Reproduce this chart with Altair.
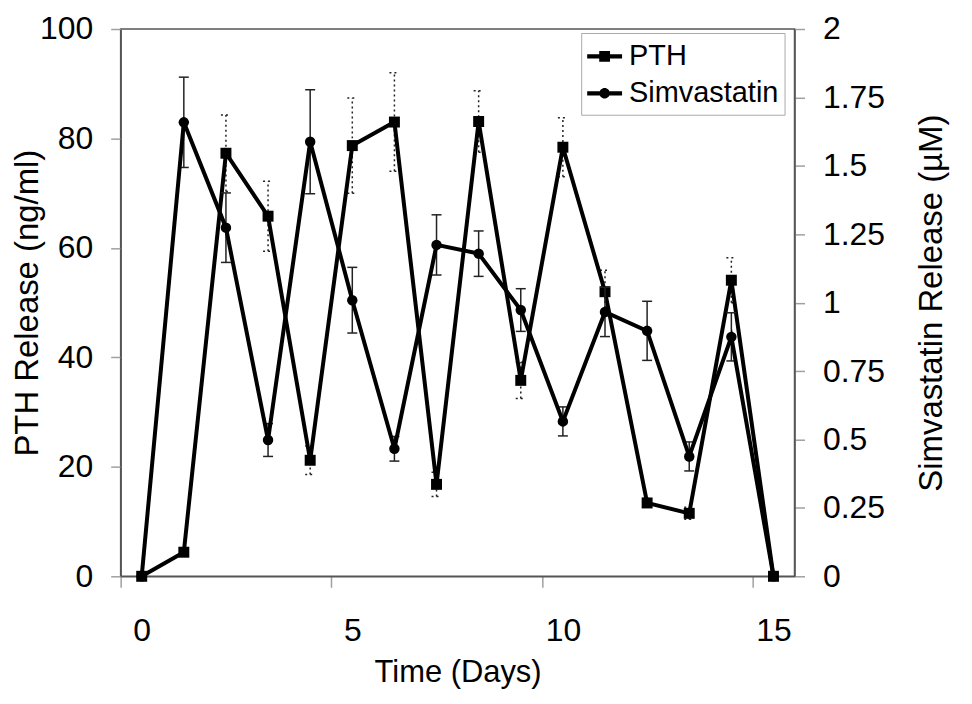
import altair as alt
import pandas as pd

# ---- data ----
days = [0, 1, 2, 3, 4, 5, 6, 7, 8, 9, 10, 11, 12, 13, 14, 15]
pth_release = [0, 4.4, 77.3, 65.8, 21.2, 78.7, 83.0, 16.8, 83.1, 35.8, 78.4, 52.0, 13.4, 11.5, 54.1, 0]
pth_error = [0, 0, 7.0, 6.4, 2.6, 8.7, 9.0, 2.2, 5.6, 3.3, 5.4, 3.9, 0.8, 1.1, 4.1, 0]
sim_release = [0, 1.659, 1.274, 0.498, 1.588, 1.009, 0.466, 1.211, 1.179, 0.973, 0.566, 0.966, 0.897, 0.438, 0.875, 0]
sim_error = [0, 0.165, 0.127, 0.06, 0.19, 0.12, 0.045, 0.11, 0.083, 0.078, 0.053, 0.09, 0.108, 0.053, 0.088, 0]

series_names = ["PTH", "Simvastatin"]
x_tick_values = [0, 5, 10, 15]
pth_tick_values = [0, 20, 40, 60, 80, 100]
sim_tick_values = [0, 0.25, 0.5, 0.75, 1, 1.25, 1.5, 1.75, 2]

df = pd.DataFrame({
    "day": days,
    "pth": pth_release,
    "pth_err": pth_error,
    "sim": sim_release,
    "sim_err": sim_error,
})
df["pth_lo"] = df["pth"] - df["pth_err"]
df["pth_hi"] = df["pth"] + df["pth_err"]
df["sim_lo"] = df["sim"] - df["sim_err"]
df["sim_hi"] = df["sim"] + df["sim_err"]

FONT = "Liberation Sans"
TICK_GREY = "#a0a0a0"
AXIS_GREY = "#555555"
PLAIN = "datum.value + ''"

x_axis = alt.Axis(values=x_tick_values, title="Time (Days)", labelFontSize=32, titleFontSize=31,
                  tickSize=11, tickColor=TICK_GREY, tickWidth=1.5, tickOffset=-21, labelOffset=21,
                  labelPadding=28, titlePadding=12,
                  domainColor=AXIS_GREY, domainWidth=1.5, grid=False, labelColor="black",
                  titleColor="black", titleFontWeight="normal", labelFlush=False, labelExpr=PLAIN)
x_scale = alt.Scale(domain=[-0.5, 15.5], nice=False, zero=False)


def X(field="day"):
    return alt.X(f"{field}:Q", scale=x_scale, axis=x_axis)


pth_axis = alt.Axis(orient="left", values=pth_tick_values, labelExpr=PLAIN, title="PTH Release (ng/ml)",
                    labelFontSize=32, titleFontSize=33, tickSize=10, tickColor=TICK_GREY, tickWidth=1.5,
                    labelPadding=18, titlePadding=-5, domainColor=AXIS_GREY, domainWidth=1.5, grid=False,
                    labelColor="black", titleColor="black", titleFontWeight="normal",
                    titleAngle=270, titleBaseline="bottom", labelFlush=False)
pth_scale = alt.Scale(domain=[0, 100], nice=False, zero=True)

sim_axis = alt.Axis(orient="right", values=sim_tick_values, labelExpr=PLAIN, title="Simvastatin Release (µM)",
                    labelFontSize=32, titleFontSize=33, tickSize=10, tickColor=TICK_GREY, tickWidth=1.5,
                    labelPadding=18, titlePadding=31, domainColor=AXIS_GREY, domainWidth=1.5, grid=False,
                    labelColor="black", titleColor="black", titleFontWeight="normal",
                    titleAngle=270, titleBaseline="top", labelFlush=False)
sim_scale = alt.Scale(domain=[0, 2], nice=False, zero=True)


def YP(field):
    return alt.Y(f"{field}:Q", scale=pth_scale, axis=pth_axis)


def YS(field):
    return alt.Y(f"{field}:Q", scale=sim_scale, axis=sim_axis)


base = alt.Chart(df)

# ---- PTH ----
pth_bars = base.transform_filter("datum.pth_err > 0").mark_rule(
    color="#222222", strokeWidth=1.5, strokeDash=[2, 3]
).encode(x=X(), y=YP("pth_lo"), y2="pth_hi:Q")

pth_caps = base.transform_filter("datum.pth_err > 0").transform_fold(
    ["pth_lo", "pth_hi"], as_=["end", "val"]
).mark_rule(color="#222222", strokeWidth=1.5, strokeDash=[2, 3], xOffset=-5, x2Offset=5).encode(
    x=X(), x2="day:Q", y=YP("val")
)

pth_line = base.mark_line(color="black", strokeWidth=4).encode(x=X(), y=YP("pth"))
pth_pts = base.mark_point(shape="square", filled=True, color="black", size=121, opacity=1).encode(
    x=X(), y=YP("pth")
)

legend_paths = [
    "M-1,-0.12H1V0.12H-1Z M-0.31,-0.31H0.31V0.31H-0.31Z",
    "M-1,-0.12H1V0.12H-1Z M-0.3,0A0.3,0.3 0 1,1 0.3,0A0.3,0.3 0 1,1 -0.3,0Z",
]
legend_layer = base.transform_filter("false").transform_calculate(series="'PTH'").mark_point(
    filled=True, color="black", size=1225, opacity=1
).encode(
    shape=alt.Shape(
        "series:N",
        scale=alt.Scale(domain=series_names, range=legend_paths),
        legend=alt.Legend(
            title=None, orient="none", legendX=462, legendY=4, symbolSize=1225,
            symbolFillColor="black", symbolStrokeWidth=0, labelFontSize=29, labelFont=FONT,
            labelColor="black", strokeColor="#aaaaaa", fillColor="white", padding=6,
            rowPadding=4, labelOffset=7, symbolOpacity=1,
        ),
    )
)

pth_group = alt.layer(pth_bars, pth_caps, pth_line, pth_pts, legend_layer)

# ---- Simvastatin ----
sim_bars = base.transform_filter("datum.sim_err > 0").mark_rule(
    color="#222222", strokeWidth=1.5
).encode(x=X(), y=YS("sim_lo"), y2="sim_hi:Q")

sim_caps = base.transform_filter("datum.sim_err > 0").transform_fold(
    ["sim_lo", "sim_hi"], as_=["end", "val"]
).mark_rule(color="#222222", strokeWidth=1.5, xOffset=-5, x2Offset=5).encode(
    x=X(), x2="day:Q", y=YS("val")
)

sim_line = base.mark_line(color="black", strokeWidth=4).encode(x=X(), y=YS("sim"))
sim_pts = base.mark_point(shape="circle", filled=True, color="black", size=110, opacity=1).encode(
    x=X(), y=YS("sim")
)

sim_group = alt.layer(sim_bars, sim_caps, sim_line, sim_pts)

chart = alt.layer(pth_group, sim_group).resolve_scale(y="independent").properties(
    width=676,
    height=549,
    padding={"left": 113, "top": 20, "right": 170, "bottom": 118},
    autosize=alt.AutoSizeParams(type="none"),
).configure(font=FONT).configure_view(stroke=AXIS_GREY, strokeWidth=1.5)

chart.save("out.html", embed_options={"renderer": "svg", "actions": False})
